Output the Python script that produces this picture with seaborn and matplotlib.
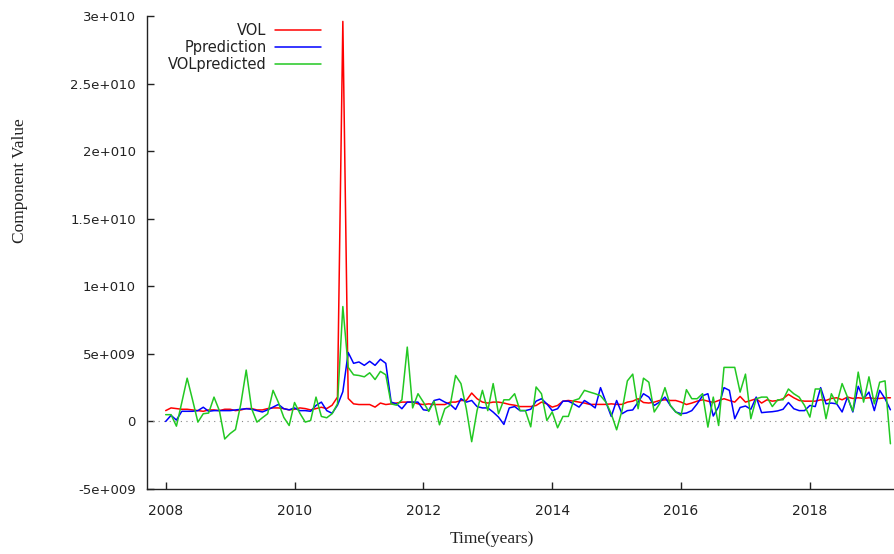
import numpy as np
import pandas as pd
import matplotlib
matplotlib.use("Agg")
import matplotlib.pyplot as plt
import seaborn as sns

# ---- data (values in units of 1e9), monthly from Jan 2008 ----
vol = [0.8, 1.0, 0.95, 0.9, 0.9, 0.85, 0.8, 0.75, 0.85, 0.85, 0.8, 0.9, 0.9, 0.8, 0.85, 0.95, 0.95,
       0.85, 0.85, 0.95, 1.0, 1.0, 0.95, 0.85, 0.9, 1.0, 0.95, 0.85, 0.95, 1.05, 0.95, 1.2, 1.8,
       29.6, 1.7, 1.3, 1.25, 1.25, 1.25, 1.06, 1.36, 1.25, 1.3, 1.36, 1.43, 1.43, 1.43, 1.3, 1.25,
       1.3, 1.25, 1.25, 1.25, 1.43, 1.43, 1.55, 1.55, 2.1, 1.68, 1.43, 1.36, 1.43, 1.43, 1.36, 1.26,
       1.2, 1.1, 1.1, 1.1, 1.18, 1.43, 1.3, 1.06, 1.18, 1.5, 1.55, 1.5, 1.43, 1.36, 1.26, 1.26,
       1.26, 1.26, 1.3, 1.26, 1.26, 1.43, 1.5, 1.68, 1.4, 1.36, 1.43, 1.55, 1.6, 1.55, 1.55, 1.43,
       1.25, 1.36, 1.5, 1.6, 1.5, 1.4, 1.55, 1.68, 1.55, 1.43, 1.85, 1.43, 1.55, 1.68, 1.36, 1.6,
       1.5, 1.55, 1.68, 2.0, 1.75, 1.55, 1.5, 1.5, 1.5, 1.6, 1.55, 1.7, 1.75, 1.6, 1.8, 1.7,
       1.75, 1.7, 1.75, 1.7, 1.7, 1.75, 1.75]

pprediction = [0.0, 0.45, 0.1, 0.75, 0.75, 0.75, 0.8, 1.05, 0.75, 0.8, 0.8, 0.8, 0.8, 0.85, 0.9, 0.94, 0.9,
               0.8, 0.7, 0.86, 1.06, 1.26, 0.94, 0.86, 1.0, 0.8, 0.8, 0.75, 1.18, 1.43, 0.8, 0.6, 1.2,
               2.2, 5.1, 4.3, 4.4, 4.15, 4.45, 4.15, 4.6, 4.3, 1.43, 1.3, 0.94, 1.43, 1.43, 1.43, 0.86,
               0.81, 1.55, 1.65, 1.43, 1.26, 0.89, 1.68, 1.43, 1.55, 1.1, 1.0, 1.0, 0.69, 0.32, -0.22, 1.0,
               1.1, 0.8, 0.8, 0.9, 1.5, 1.68, 1.3, 0.8, 0.94, 1.5, 1.5, 1.3, 1.06, 1.55, 1.3, 1.0,
               2.5, 1.43, 0.37, 1.55, 0.57, 0.8, 0.85, 1.43, 2.05, 1.8, 1.18, 1.43, 1.8, 1.18, 0.7, 0.57,
               0.62, 0.8, 1.3, 1.9, 2.05, 0.4, 1.1, 2.5, 2.3, 0.2, 1.03, 1.14, 0.9, 1.8, 0.65, 0.69,
               0.72, 0.78, 0.9, 1.4, 0.94, 0.8, 0.8, 1.18, 1.1, 2.5, 1.3, 1.36, 1.3, 0.7, 1.8, 0.7,
               2.6, 1.68, 2.17, 0.8, 2.3, 1.68, 0.86]

volpredicted = [0.5, 0.5, -0.35, 1.4, 3.2, 1.6, -0.05, 0.57, 0.62, 1.8, 0.8, -1.3, -0.9, -0.6, 1.3, 3.8, 0.95,
                -0.05, 0.27, 0.57, 2.3, 1.4, 0.3, -0.3, 1.4, 0.6, -0.05, 0.07, 1.8, 0.37, 0.27, 0.57, 1.3,
                8.5, 4.0, 3.45, 3.4, 3.3, 3.6, 3.1, 3.7, 3.45, 1.3, 1.2, 1.6, 5.5, 1.0, 2.05, 1.43,
                0.74, 1.5, -0.25, 0.94, 1.2, 3.4, 2.8, 0.94, -1.5, 0.8, 2.3, 0.8, 2.8, 0.57, 1.6, 1.6,
                2.05, 0.8, 0.8, -0.4, 2.55, 2.05, 0.07, 0.7, -0.47, 0.37, 0.37, 1.55, 1.68, 2.3, 2.17, 2.05,
                1.9, 1.43, 0.57, -0.62, 0.8, 3.0, 3.5, 0.94, 3.2, 2.9, 0.7, 1.3, 2.5, 1.18, 0.7, 0.44,
                2.35, 1.68, 1.68, 2.05, -0.42, 1.8, -0.3, 4.0, 4.0, 4.0, 2.17, 3.5, 0.2, 1.68, 1.8, 1.8,
                1.1, 1.6, 1.6, 2.4, 2.05, 1.8, 1.18, 0.32, 2.4, 2.4, 0.2, 2.05, 1.3, 2.8, 1.8, 0.77,
                3.65, 1.43, 3.3, 1.3, 2.9, 3.0, -1.65]

series_names = ["VOL", "Pprediction", "VOLpredicted"]
series_colors = ["#ff0000", "#0000ff", "#22c822"]
start_year = 2008
ytick_values = [-5e9, 0, 5e9, 1e10, 1.5e10, 2e10, 2.5e10, 3e10]
ytick_labels = ["-5e+009", "0", "5e+009", "1e+010", "1.5e+010", "2e+010", "2.5e+010", "3e+010"]
xtick_values = [2008, 2010, 2012, 2014, 2016, 2018]
xtick_labels = ["2008", "2010", "2012", "2014", "2016", "2018"]

n = len(vol)
t = start_year + np.arange(n) / 12.0
frames = []
for name, vals in zip(series_names, [vol, pprediction, volpredicted]):
    frames.append(pd.DataFrame({"t": t[:len(vals)], "v": np.array(vals) * 1e9, "s": name}))
df = pd.concat(frames, ignore_index=True)

sns.set_style("ticks")
plt.rcParams["font.family"] = ["DejaVu Sans"]

fig = plt.figure(figsize=(8.95, 5.54), dpi=100)
ax = fig.add_axes([147 / 895, 1 - 489 / 554, 746 / 895, 473 / 554])

ax.axhline(0, color="#888888", lw=0.8, ls=(0, (1, 4)), zorder=1)
for name, col in zip(series_names, series_colors):
    sns.lineplot(data=df[df["s"] == name], x="t", y="v", color=col, lw=1.1,
                 label=name, ax=ax, zorder=3)

ax.set_xlim(2007.71, 2019.29)
ax.set_ylim(-5e9, 3e10)
ax.set_yticks(ytick_values)
ax.set_yticklabels(ytick_labels)
ax.set_xticks(xtick_values)
ax.set_xticklabels(xtick_labels)
ax.tick_params(axis="y", direction="in", length=5, width=1, labelsize=9.5, pad=8, colors="#222222")
ax.tick_params(axis="x", direction="in", length=5, width=1, labelsize=10, pad=11, colors="#222222")
for sp in ["top", "right"]:
    ax.spines[sp].set_visible(False)
for sp in ["left", "bottom"]:
    ax.spines[sp].set_color("#222222")
    ax.spines[sp].set_linewidth(1.0)

ax.set_ylabel("Component Value", family=["Liberation Serif"], fontsize=12.5, color="#222222")
ax.set_xlabel("Time(years)", family=["Liberation Serif"], fontsize=12.5, color="#222222")
ax.yaxis.set_label_coords(-0.160, 0.653)
ax.xaxis.set_label_coords(0.4625, -0.089)

leg = ax.legend(loc="upper right", bbox_to_anchor=((321 - 147) / 746, 0.985),
                markerfirst=False, frameon=False, fontsize=10.5, handlelength=3.15,
                handletextpad=0.57, labelspacing=0.15, borderpad=0, borderaxespad=0)
for txt in leg.get_texts():
    txt.set_color("#222222")

fig.savefig("out.png", dpi=100)
